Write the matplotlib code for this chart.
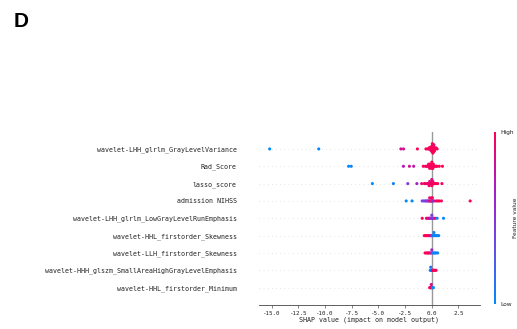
import numpy as np
import matplotlib
matplotlib.use("Agg")
import matplotlib.pyplot as plt
from matplotlib.colors import LinearSegmentedColormap, Normalize
from matplotlib.cm import ScalarMappable

plt.rcParams['axes.unicode_minus'] = False

# features, top to bottom (ordered by mean |SHAP|)
features = [
    "wavelet-LHH_glrlm_GrayLevelVariance",
    "Rad_Score",
    "lasso_score",
    "admission NIHSS",
    "wavelet-LHH_glrlm_LowGrayLevelRunEmphasis",
    "wavelet-HHL_firstorder_Skewness",
    "wavelet-LLH_firstorder_Skewness",
    "wavelet-HHH_glszm_SmallAreaHighGrayLevelEmphasis",
    "wavelet-HHL_firstorder_Minimum",
]

# per-feature SHAP values and normalised feature values (0 = low, 1 = high)
shap_glv = [-15.2, -10.6, -2.9, -2.65, -1.35, -0.55, -0.4, -0.3, -0.25, -0.2, -0.15,
            -0.1, -0.08, -0.05, 0.0, 0.0, 0.02, 0.05, 0.05, 0.08, 0.1, 0.1, 0.12,
            0.15, 0.15, 0.2, 0.25, 0.3, 0.4, 0.5, 0.1, 0.12, 0.15, 0.05, 0.2]
fval_glv = [0.0, 0.02, 0.8, 0.85, 1.0, 0.95, 1.0, 0.95, 1.0, 0.9, 1.0,
            0.95, 1.0, 0.9, 1.0, 0.95, 1.0, 1.0, 0.9, 1.0, 0.95, 1.0, 1.0,
            0.9, 1.0, 1.0, 0.95, 1.0, 1.0, 0.95, 1.0, 0.95, 1.0, 1.0, 0.9]

shap_rad = [-7.8, -7.55, -2.66, -2.1, -1.7, -0.8, -0.6, -0.5, -0.4, -0.3, -0.25, -0.2,
            -0.1, -0.05, 0.0, 0.05, 0.1, 0.15, 0.2, 0.3, 0.4, 0.5, 0.7, 1.0,
            -0.3, -0.2, 0.0, 0.1, 0.0]
fval_rad = [0.0, 0.05, 0.7, 0.8, 0.75, 1.0, 0.95, 1.0, 0.9, 1.0, 0.95, 1.0,
            1.0, 0.9, 1.0, 0.95, 1.0, 1.0, 0.9, 1.0, 0.95, 1.0, 1.0, 1.0,
            0.95, 1.0, 0.9, 1.0, 1.0]

shap_lasso = [-5.57, -3.6, -2.25, -1.4, -0.95, -0.7, -0.6, -0.45, -0.35, -0.25, -0.2,
              -0.1, -0.05, 0.0, 0.05, 0.1, 0.2, 0.3, 0.4, 0.55, 0.95,
              -0.25, 0.0, 0.1, 0.0]
fval_lasso = [0.0, 0.05, 0.45, 0.6, 0.9, 0.85, 1.0, 0.9, 1.0, 0.95, 0.85,
              1.0, 0.9, 1.0, 0.95, 1.0, 0.9, 1.0, 1.0, 0.95, 1.0,
              0.9, 1.0, 0.95, 0.85]

shap_nihss = [-2.4, -1.85, -0.9, -0.75, -0.6, -0.5, -0.4, -0.3, -0.2, -0.1, -0.05,
              0.0, 0.05, 0.1, 0.2, 0.4, 0.55, 0.7, 0.9, 3.6, -0.2, 0.0, 0.05]
fval_nihss = [0.0, 0.0, 0.4, 0.35, 0.5, 0.3, 0.45, 0.55, 0.9, 0.9, 0.85,
              0.95, 0.6, 0.2, 0.8, 0.95, 1.0, 1.0, 0.95, 1.0, 0.95, 0.9, 1.0]

shap_lglre = [-0.9, -0.5, -0.4, -0.3, -0.2, -0.15, -0.1, -0.05, 0.0, 0.0, 0.05,
              0.1, 0.2, 0.3, 0.5, 1.1]
fval_lglre = [1.0, 0.95, 0.9, 0.9, 0.7, 0.8, 0.6, 0.5, 0.55, 0.45, 0.4,
              0.5, 0.35, 0.9, 0.05, 0.0]

shap_hhl_skew = [-0.7, -0.6, -0.5, -0.4, -0.3, -0.2, -0.1, -0.05, 0.0, 0.05, 0.1,
                 0.2, 0.2, 0.3, 0.4, 0.5, 0.65]
fval_hhl_skew = [1.0, 1.0, 0.95, 1.0, 0.9, 1.0, 0.95, 0.85, 0.5, 0.1, 0.05,
                 0.0, 0.05, 0.0, 0.1, 0.0, 0.05]

shap_llh_skew = [-0.63, -0.5, -0.4, -0.3, -0.2, -0.1, 0.0, 0.0, 0.1, 0.2, 0.3,
                 0.4, 0.55]
fval_llh_skew = [1.0, 0.95, 1.0, 0.9, 1.0, 0.85, 0.5, 0.6, 0.1, 0.0, 0.05,
                 0.0, 0.05]

shap_saghe = [-0.15, -0.1, -0.1, -0.05, 0.0, 0.05, 0.1, 0.15, 0.2, 0.3, 0.4]
fval_saghe = [0.05, 0.0, 0.1, 0.0, 0.05, 0.9, 1.0, 0.95, 1.0, 0.95, 1.0]

shap_hhl_min = [-0.2, -0.15, -0.1, -0.05, -0.05, 0.0, 0.05, 0.1, 0.15]
fval_hhl_min = [1.0, 0.9, 1.0, 0.95, 0.85, 1.0, 0.1, 0.05, 0.0]

shap_values = [shap_glv, shap_rad, shap_lasso, shap_nihss, shap_lglre,
               shap_hhl_skew, shap_llh_skew, shap_saghe, shap_hhl_min]
feature_values = [fval_glv, fval_rad, fval_lasso, fval_nihss, fval_lglre,
                  fval_hhl_skew, fval_llh_skew, fval_saghe, fval_hhl_min]

xticks = [-15.0, -12.5, -10.0, -7.5, -5.0, -2.5, 0.0, 2.5]

cmap = LinearSegmentedColormap.from_list(
    "red_blue", ["#008afb", "#6a4be8", "#a81cc8", "#ff0052"])


def swarm_offsets(shaps, row_height=0.4, nbins=100):
    # stack points that fall in the same bin, alternating above/below the row
    shaps = np.asarray(shaps, dtype=float)
    quant = np.round(nbins * (shaps - shaps.min()) / (shaps.max() - shaps.min() + 1e-8))
    inds = np.argsort(quant, kind="stable")
    layer, last_bin = 0, -1
    ys = np.zeros(len(shaps))
    for ind in inds:
        if quant[ind] != last_bin:
            layer = 0
        ys[ind] = np.ceil(layer / 2) * ((layer % 2) * 2 - 1)
        layer += 1
        last_bin = quant[ind]
    ys *= 0.9 * (row_height / np.max(ys + 1))
    return ys


fig = plt.figure(figsize=(5.17, 3.29), dpi=100)
ax = fig.add_axes([0.501, 0.073, 0.427, 0.527])

n = len(features)
for i, (sv, fv) in enumerate(zip(shap_values, feature_values)):
    pos = n - 1 - i
    ax.axhline(y=pos, color="#cccccc", lw=0.5, dashes=(1, 5), zorder=-1)
    ys = swarm_offsets(sv)
    ax.scatter(sv, pos + ys, c=fv, cmap=cmap, vmin=0, vmax=1,
               s=5, linewidths=0, alpha=1, zorder=3)

ax.axvline(x=0, color="#999999", lw=1, zorder=-1)

ax.set_xlim(-16.2, 4.5)
ax.set_ylim(-1, n)
ax.set_xticks(xticks)
ax.set_xticklabels([f"{t:.1f}" for t in xticks], fontfamily="DejaVu Sans Mono",
                   fontsize=4.2, color="#222222")
ax.set_yticks(range(n))
ax.set_yticklabels(features[::-1], fontfamily="DejaVu Sans Mono", fontsize=4.8,
                   color="#222222")
ax.tick_params(axis="y", length=0, pad=16)
ax.tick_params(axis="x", length=2, width=0.5, pad=2, color="#555555")
ax.set_xlabel("SHAP value (impact on model output)", fontfamily="DejaVu Sans Mono",
              fontsize=4.8, color="#222222", labelpad=1)
for side in ["top", "right", "left"]:
    ax.spines[side].set_visible(False)
ax.spines["bottom"].set_linewidth(0.6)
ax.spines["bottom"].set_color("#444444")

# colour bar for feature value
cax = fig.add_axes([0.955, 0.076, 0.004, 0.524])
cb = fig.colorbar(ScalarMappable(norm=Normalize(0, 1), cmap=cmap), cax=cax)
cb.set_ticks([0, 1])
cb.set_ticklabels(["Low", "High"])
cb.ax.tick_params(length=0, labelsize=4.2, pad=3, labelcolor="#222222")
cb.outline.set_visible(False)
cb.set_label("Feature value", fontsize=4.2, labelpad=0, color="#222222")

fig.text(0.027, 0.9635, "D", fontfamily="Liberation Sans", fontweight="bold",
         fontsize=15, va="top", ha="left")

fig.savefig("out.png", dpi=100)
